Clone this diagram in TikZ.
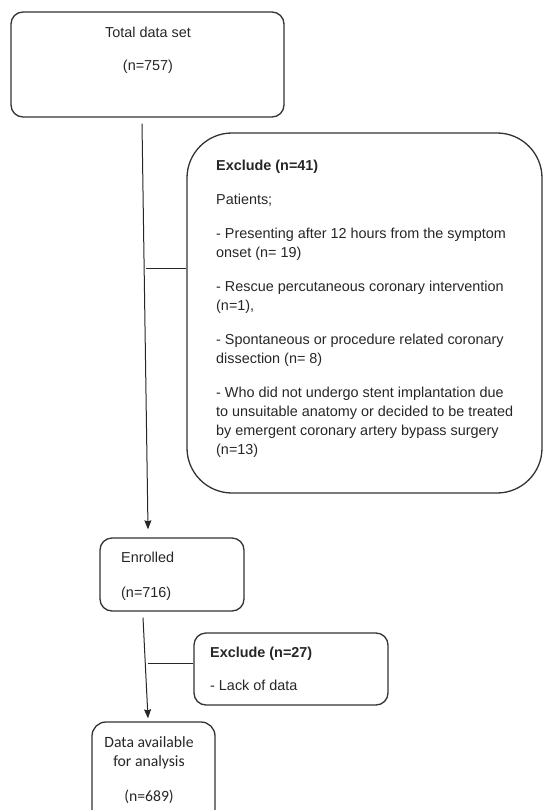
\documentclass[tikz,border=0pt]{standalone}
\usepackage{fontspec}
\setmainfont{Liberation Sans}
\newfontfamily\calfont{Carlito}

\begin{document}
\begin{tikzpicture}[x=1pt,y=-1pt]
\usetikzlibrary{arrows.meta}
\clip (0,0) rectangle (544,810);
\begin{scope}
	\tikzstyle{every node}=[font=\fontsize{14.4}{19}\selectfont, text=black!85, inner sep=0pt]
	\tikzstyle{box}=[draw=black!80, line width=1.3pt, rounded corners=12pt]
	\tikzstyle{link}=[draw=black!85, line width=1pt]
	% boxes
	\node[box, minimum width=273pt, minimum height=105pt] (total) at (147.5,64.5) {};
	\node[box, minimum width=355pt, minimum height=360pt, rounded corners=45pt] (excla) at (364.5,313) {};
	\node[box, minimum width=144pt, minimum height=73pt] (enrol) at (172,574.5) {};
	\node[box, minimum width=194pt, minimum height=72pt] (exclb) at (291,669) {};
	\node[box, minimum width=123pt, minimum height=110pt, rounded corners=14pt] (avail) at (153.5,777) {};
	% texts
	\node[align=center, anchor=north] (totaltxt) at (148,26.5) {Total data set\\[14pt](n=757)};
	\node[align=left, anchor=north west] (exclatxt) at (216,159.5) {\textbf{Exclude (n=41)}\\[15pt]Patients;\\[15pt]- Presenting after 12 hours from the symptom\\onset (n= 19)\\[15pt]- Rescue percutaneous coronary intervention\\(n=1),\\[15pt]- Spontaneous or procedure related coronary\\dissection (n= 8)\\[15pt]- Who did not undergo stent implantation due\\to unsuitable anatomy or decided to be treated\\by emergent coronary artery bypass surgery\\(n=13)};
	\node[align=left, anchor=north west] (enroltxt) at (121,551.5) {Enrolled\\[16pt](n=716)};
	\node[align=left, anchor=north west] (exclbtxt) at (210,646.5) {\textbf{Exclude (n=27)}\\[14pt]- Lack of data};
	\node[align=center, anchor=north, font=\calfont\fontsize{15.7}{19}\selectfont] (availtxt) at (149,736) {Data available\\for analysis\\[16pt](n=689)};
	% connectors
	\coordinate (ba) at (146,268.5);
	\coordinate (bb) at (147.5,663.5);
	\draw[link][-{Stealth[length=9pt,width=7pt,inset=1pt]}] ([xshift=-5.5pt,yshift=-6pt]total.south) -- ([xshift=-24pt,yshift=8pt]enrol.north);
	\draw[link] (ba) -- (ba -| excla.west);
	\draw[link][-{Stealth[length=9pt,width=7pt,inset=1pt]}] ([xshift=-29pt,yshift=-6pt]enrol.south) -- ([xshift=-5.5pt,yshift=3pt]avail.north);
	\draw[link] (bb) -- (bb -| exclb.west);
\end{scope}
\end{tikzpicture}
\end{document}
